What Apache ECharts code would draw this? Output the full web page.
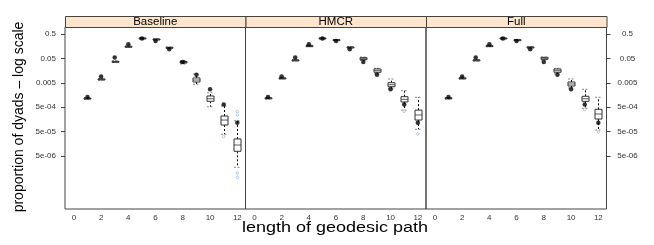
<!DOCTYPE html>
<html><head><meta charset="utf-8">
<script src="https://cdn.jsdelivr.net/npm/echarts@6/dist/echarts.min.js"></script>
<style>html,body{margin:0;padding:0;background:#fff}#c{width:654px;height:245px}</style>
</head><body><div id="c"></div>
<script>
const panels = ['Baseline', 'HMCR', 'Full'];
const pathLengths = [1, 2, 3, 4, 5, 6, 7, 8, 9, 10, 11, 12];
const observed = [1.3e-3, 9.0e-3, 0.054, 0.19, 0.33, 0.26, 0.12, 0.036, 0.0106, 0.0027, 6.4e-4, 1.14e-4];
// [low whisker, Q1, median, Q3, high whisker]
const baselineBoxes = [
  [1.04e-3, 1.08e-3, 1.14e-3, 1.19e-3, 1.25e-3],
  [6.5e-3, 6.64e-3, 6.95e-3, 7.16e-3, 7.5e-3],
  [0.034, 0.0356, 0.0366, 0.038, 0.0399],
  [0.143, 0.147, 0.151, 0.157, 0.161],
  [0.318, 0.324, 0.333, 0.343, 0.349],
  [0.284, 0.295, 0.303, 0.312, 0.318],
  [0.127, 0.133, 0.137, 0.143, 0.147],
  [0.0295, 0.0324, 0.0346, 0.0373, 0.041],
  [0.00435, 0.0054, 0.0065, 0.0079, 0.0115],
  [5.2e-4, 8.7e-4, 1.11e-3, 1.44e-3, 1.96e-3],
  [3.9e-5, 9.3e-5, 1.49e-4, 2.18e-4, 5.6e-4],
  [1.72e-6, 7.8e-6, 1.41e-5, 2.5e-5, 1.4e-4]
];
const hmcrBoxes = [
  [1.08e-3, 1.14e-3, 1.19e-3, 1.21e-3, 1.25e-3],
  [7.16e-3, 7.36e-3, 7.64e-3, 7.94e-3, 8.24e-3],
  [0.0391, 0.0403, 0.0418, 0.0435, 0.0451],
  [0.151, 0.157, 0.161, 0.167, 0.172],
  [0.318, 0.324, 0.333, 0.343, 0.349],
  [0.271, 0.276, 0.284, 0.292, 0.298],
  [0.133, 0.137, 0.143, 0.147, 0.151],
  [0.041, 0.0443, 0.0486, 0.0535, 0.057],
  [0.0115, 0.0135, 0.0157, 0.0184, 0.0196],
  [2.98e-3, 3.46e-3, 4.18e-3, 5.05e-3, 7.16e-3],
  [3.8e-4, 8.2e-4, 1.05e-3, 1.35e-3, 2.37e-3],
  [6.2e-5, 1.49e-4, 2.4e-4, 3.8e-4, 1.27e-3]
];
const fullBoxes = [
  [1.08e-3, 1.14e-3, 1.19e-3, 1.21e-3, 1.25e-3],
  [7.16e-3, 7.36e-3, 7.64e-3, 7.94e-3, 8.24e-3],
  [0.0391, 0.0403, 0.0418, 0.0435, 0.0451],
  [0.151, 0.157, 0.161, 0.167, 0.172],
  [0.318, 0.324, 0.333, 0.343, 0.349],
  [0.271, 0.276, 0.284, 0.292, 0.298],
  [0.133, 0.137, 0.143, 0.147, 0.151],
  [0.043, 0.0459, 0.0505, 0.0555, 0.057],
  [0.0115, 0.0135, 0.0157, 0.0184, 0.0196],
  [3.06e-3, 3.7e-3, 4.47e-3, 5.4e-3, 7.16e-3],
  [4.5e-4, 8.7e-4, 1.11e-3, 1.4e-3, 2.71e-3],
  [5.8e-5, 1.64e-4, 2.63e-4, 4.1e-4, 1.27e-3]
];
const baselineOutliers = [[11, 3.1e-5], [12, 3.3e-4], [12, 2.4e-4], [12, 1.0e-6], [12, 6.5e-7]];
const hmcrOutliers = [[11, 3.4e-4], [12, 4.0e-5]];
const fullOutliers = [[11, 4.0e-4], [12, 4.8e-5]];
const xTicks = [0, 2, 4, 6, 8, 10, 12];
const yTickValues = [0.5, 0.05, 0.005, 5e-4, 5e-5, 5e-6];
const yTickLabels = ['0.5', '0.05', '0.005', '5e-04', '5e-05', '5e-06'];

const allBoxes = [baselineBoxes, hmcrBoxes, fullBoxes];
const allOutliers = [baselineOutliers, hmcrOutliers, fullOutliers];

const FONT = 'Liberation Sans, Arial, Helvetica, sans-serif';
const lg = Math.log10;
const gridLeft = [65, 245.5, 426];
const gridW = 180.5, gridTop = 27, gridH = 182, stripH = 11;
const yTickLogs = yTickValues.map(lg);

function yFmt(v) {
  for (let i = 0; i < yTickLogs.length; i++) if (Math.abs(yTickLogs[i] - v) < 1e-6) return yTickLabels[i];
  return '';
}

function renderBox(params, api) {
  const x = api.value(0);
  const lo = api.coord([x, api.value(1)]);
  const q1 = api.coord([x, api.value(2)]);
  const md = api.coord([x, api.value(3)]);
  const q3 = api.coord([x, api.value(4)]);
  const hi = api.coord([x, api.value(5)]);
  const cx = Math.round(lo[0]) + 0.5, hw = 3.5;
  const dash = {stroke: '#000', lineWidth: 1, lineDash: [2, 2]};
  const cap = {stroke: '#888', lineWidth: 1, lineDash: [2, 1.5]};
  return {type: 'group', children: [
    {type: 'line', shape: {x1: cx, y1: q3[1], x2: cx, y2: hi[1]}, style: dash},
    {type: 'line', shape: {x1: cx, y1: q1[1], x2: cx, y2: lo[1]}, style: dash},
    {type: 'line', shape: {x1: cx - hw, y1: hi[1], x2: cx + hw, y2: hi[1]}, style: cap},
    {type: 'line', shape: {x1: cx - hw, y1: lo[1], x2: cx + hw, y2: lo[1]}, style: cap},
    {type: 'rect', shape: {x: cx - hw, y: q3[1], width: 2 * hw, height: Math.max(q1[1] - q3[1], 1)},
      style: {fill: '#fff', stroke: '#333', lineWidth: 1}},
    {type: 'line', shape: {x1: cx - hw, y1: md[1], x2: cx + hw, y2: md[1]}, style: {stroke: '#333', lineWidth: 0.8}}
  ]};
}

const grids = [], xAxes = [], yAxes = [], series = [], graphics = [];
panels.forEach((name, p) => {
  grids.push({left: gridLeft[p], top: gridTop, width: gridW, height: gridH, show: true,
    borderColor: '#444', borderWidth: 1, backgroundColor: 'transparent'});
  xAxes.push({type: 'value', gridIndex: p, min: -0.65, max: 12.6,
    axisLine: {show: false, onZero: false}, axisTick: {show: false}, splitLine: {show: false},
    axisLabel: {customValues: xTicks, fontSize: 8, color: '#333', margin: 5, fontFamily: FONT}});
  const showY = p !== 1;
  const yAxis = {type: 'value', gridIndex: p, min: -7.473, max: -0.014,
    position: p === 2 ? 'right' : 'left',
    axisLine: {show: false, onZero: false}, splitLine: {show: false},
    axisTick: {show: false}, axisLabel: {show: false}};
  if (showY) {
    yAxis.axisTick = {show: true, customValues: yTickLogs, length: 4, lineStyle: {color: '#444'}};
    yAxis.axisLabel = {show: true, customValues: yTickLogs, formatter: yFmt, fontSize: 8, color: '#333',
      fontFamily: FONT, margin: p === 2 ? 21 : 9, align: p === 2 ? 'center' : 'right'};
  }
  yAxes.push(yAxis);
  series.push({type: 'custom', xAxisIndex: p, yAxisIndex: p, renderItem: renderBox,
    encode: {x: 0, y: [1, 2, 3, 4, 5]}, z: 2,
    data: pathLengths.map((x, i) => [x].concat(allBoxes[p][i].map(lg)))});
  series.push({type: 'scatter', xAxisIndex: p, yAxisIndex: p, symbol: 'circle', symbolSize: 2.5,
    itemStyle: {color: '#fff', borderColor: '#7fb0ea', borderWidth: 0.8}, z: 3,
    data: allOutliers[p].map(d => [d[0], lg(d[1])])});
  series.push({type: 'scatter', xAxisIndex: p, yAxisIndex: p, symbol: 'circle', symbolSize: 4.5,
    itemStyle: {color: '#000'}, z: 4,
    data: pathLengths.map((x, i) => [x, lg(observed[i])])});
  graphics.push({type: 'rect', shape: {x: gridLeft[p] + 0.5, y: gridTop - stripH + 0.5, width: gridW, height: stripH},
    style: {fill: '#FFE5CC', stroke: '#444', lineWidth: 1}});
  graphics.push({type: 'text', x: gridLeft[p] + gridW / 2, y: gridTop - stripH / 2 + 0.5, scaleX: 1.15,
    style: {text: name, font: '10px ' + FONT, fill: '#000', textAlign: 'center', textVerticalAlign: 'middle'}});
});
graphics.push({type: 'text', x: 335, y: 228, scaleX: 1.2,
  style: {text: 'length of geodesic path', font: '15px ' + FONT, fill: '#000', textAlign: 'center', textVerticalAlign: 'middle'}});
graphics.push({type: 'text', x: 19, y: 117, rotation: Math.PI / 2,
  style: {text: 'proportion of dyads \u2013 log scale', font: '14px ' + FONT, fill: '#000', textAlign: 'center', textVerticalAlign: 'middle'}});

const chart = echarts.init(document.getElementById('c'), null, {renderer: 'canvas'});
chart.setOption({animation: false, backgroundColor: '#fff', grid: grids, xAxis: xAxes, yAxis: yAxes, series: series, graphic: graphics});
</script></body></html>
